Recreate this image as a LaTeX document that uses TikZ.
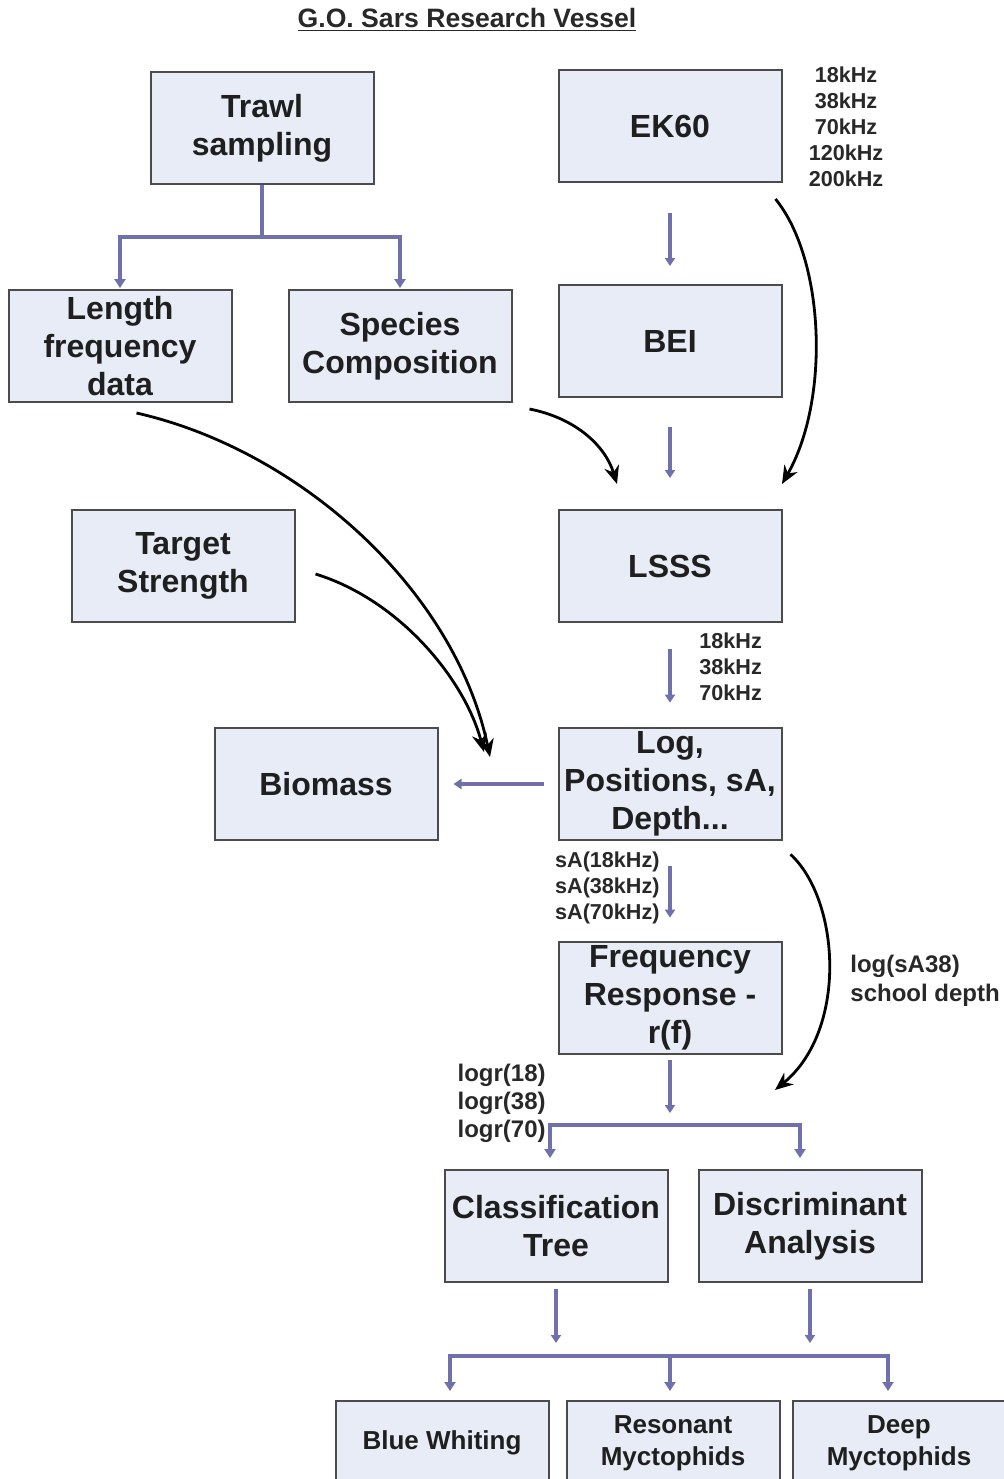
\documentclass[tikz,border=0pt]{standalone}
\usepackage{fontspec}
\setmainfont{Liberation Sans}
\usepackage{tikz}
\usetikzlibrary{arrows.meta,positioning}

\definecolor{boxfill}{RGB}{231,236,246}
\definecolor{boxline}{RGB}{75,75,75}
\definecolor{flowblue}{RGB}{112,112,172}
\definecolor{txtgray}{RGB}{40,40,40}

\newcommand{\boxfont}{\fontsize{16}{19}\selectfont\bfseries}
\newcommand{\smallfont}{\fontsize{10.8}{13}\selectfont\bfseries}

\begin{document}
\begin{tikzpicture}[x=0.5pt, y=-0.5pt,
    box/.style = {draw=boxline, fill=boxfill, line width=1pt, minimum width=111.5pt, minimum height=56pt, inner sep=2pt, align=center, font=\boxfont, text=black!88},
    flow/.style = {line width=2pt, draw=flowblue, -{Triangle[length=4pt,width=5pt]}},
    fork/.style = {line width=2.2pt, draw=flowblue, -{Triangle[length=4.5pt,width=5.5pt]}},
    anno/.style = {line width=1.4pt, -{Stealth[length=9pt,width=7.5pt]}}]
    \useasboundingbox (0,0) rectangle (1004,1479);
    \clip (0,0) rectangle (1004,1479);
    \tikzstyle{lbl}=[font=\smallfont, text=txtgray, inner sep=0pt]

    \node[font=\fontsize{13.3}{16}\selectfont\bfseries, text=txtgray] (title) at (467,20) {\underline{G.O. Sars Research Vessel}};

    \node[box] (trawl) at (262,128) {Trawl\\sampling};
    \node[box] (ek60) at (670,126) {EK60};
    \node[lbl, align=center] (ekfreq) at (846,127) {18kHz\\38kHz\\70kHz\\120kHz\\200kHz};

    \node[box] (lfd) at (120,346) {Length\\frequency\\data};
    \node[box] (spc) at (400,346) {Species\\Composition};
    \node[box] (bei) at (670,341) {BEI};

    \node[box] (ts) at (183,566) {Target\\Strength};
    \node[box] (lsss) at (670,566) {LSSS};
    \node[lbl, align=left, anchor=west] (lsssfreq) at (699,667) {18kHz\\38kHz\\70kHz};

    \node[box] (biomass) at (326,784) {Biomass};
    \node[box] (logpos) at (670,784) {Log,\\Positions, sA,\\Depth...};
    \node[lbl, align=left, anchor=east] (salbl) at (660,888) {sA(18kHz)\\sA(38kHz)\\sA(70kHz)};

    \node[box] (freqresp) at (670,998) {Frequency\\Response -\\r(f)};
    \node[lbl, font=\fontsize{12}{14.5}\selectfont\bfseries, align=left, anchor=west] (schl) at (850,981) {log(sA38)\\school depth};
    \node[lbl, font=\fontsize{12}{14}\selectfont\bfseries, align=left, anchor=east] (logr) at (546,1103) {logr(18)\\logr(38)\\logr(70)};

    \node[box] (ctree) at (556,1226) {Classification\\Tree};
    \node[box] (danal) at (810,1226) {Discriminant\\Analysis};

    \tikzstyle{leaf}=[box, font=\fontsize{13}{16}\selectfont\bfseries, minimum width=106.5pt, minimum height=42pt]
    \node[leaf] (bw) at (442,1443) {Blue Whiting};
    \node[leaf] (rmyct) at (673,1443) {Resonant\\Myctophids};
    \node[leaf] (dmyct) at (899,1443) {Deep\\Myctophids};

    \coordinate (fork1) at (670,1125);
    \coordinate (fork2) at (670,1356);

    % blue connectors
    \draw [fork, shorten >=0.5pt] (trawl.south) -- ++(0,52) -| (lfd.north);
    \draw [fork, shorten >=0.5pt] (trawl.south) -- ++(0,52) -| (spc.north);
    \draw [flow, shorten <=15pt, shorten >=9pt] (ek60) to (bei);
    \draw [flow, shorten <=14.5pt, shorten >=15.5pt] (bei) to (lsss);
    \draw [flow, shorten <=13pt, shorten >=12pt] (lsss) to (logpos);
    \draw [flow, shorten <=7pt, shorten >=7.5pt] (logpos) to (biomass);
    \draw [flow, shorten <=12.5pt, shorten >=11.5pt] (logpos) to (freqresp);
    \draw [flow, shorten <=2.5pt, shorten >=6pt] (freqresp) to (fork1);
    \draw [fork, shorten >=5.5pt] (fork1) -| ([xshift=-3pt]ctree.north);
    \draw [fork, shorten >=5.5pt] (fork1) -| ([xshift=-5pt]danal.north);
    \draw [flow, shorten <=3pt, shorten >=6.5pt] (ctree) to (ctree |- fork2);
    \draw [flow, shorten <=3pt, shorten >=6.5pt] (danal) to (danal |- fork2);
    \draw [fork, shorten >=4.5pt] (fork2) -| ([xshift=4pt]bw.north);
    \draw [fork, shorten >=4.5pt] (fork2) -- (fork2 |- rmyct.north);
    \draw [fork, shorten >=4.5pt] (fork2) -| ([xshift=-5.5pt]dmyct.north);

    % black curved arrows
    \coordinate (ekend) at (782,484);
    \coordinate (spcend) at (617,484);
    \coordinate (lfdend) at (490,757);
    \coordinate (tsend) at (484,752);
    \coordinate (logend) at (775,1090);
    \draw [anno] ([shift={(-7,16)}]ek60.south east) .. controls (825,260) and (830,400) .. (ekend);
    \draw [anno] ([shift={(17,6)}]spc.south east) .. controls (575,418) and (605,445) .. (spcend);
    \draw [anno] ([shift={(129,10)}]lfd.south west) .. controls (300,450) and (455,590) .. (lfdend);
    \draw [anno] ([shift={(20,-49)}]ts.south east) .. controls (400,600) and (465,680) .. (tsend);
    \draw [anno] ([shift={(8,13)}]logpos.south east) .. controls (840,900) and (848,1030) .. (logend);
\end{tikzpicture}
\end{document}
